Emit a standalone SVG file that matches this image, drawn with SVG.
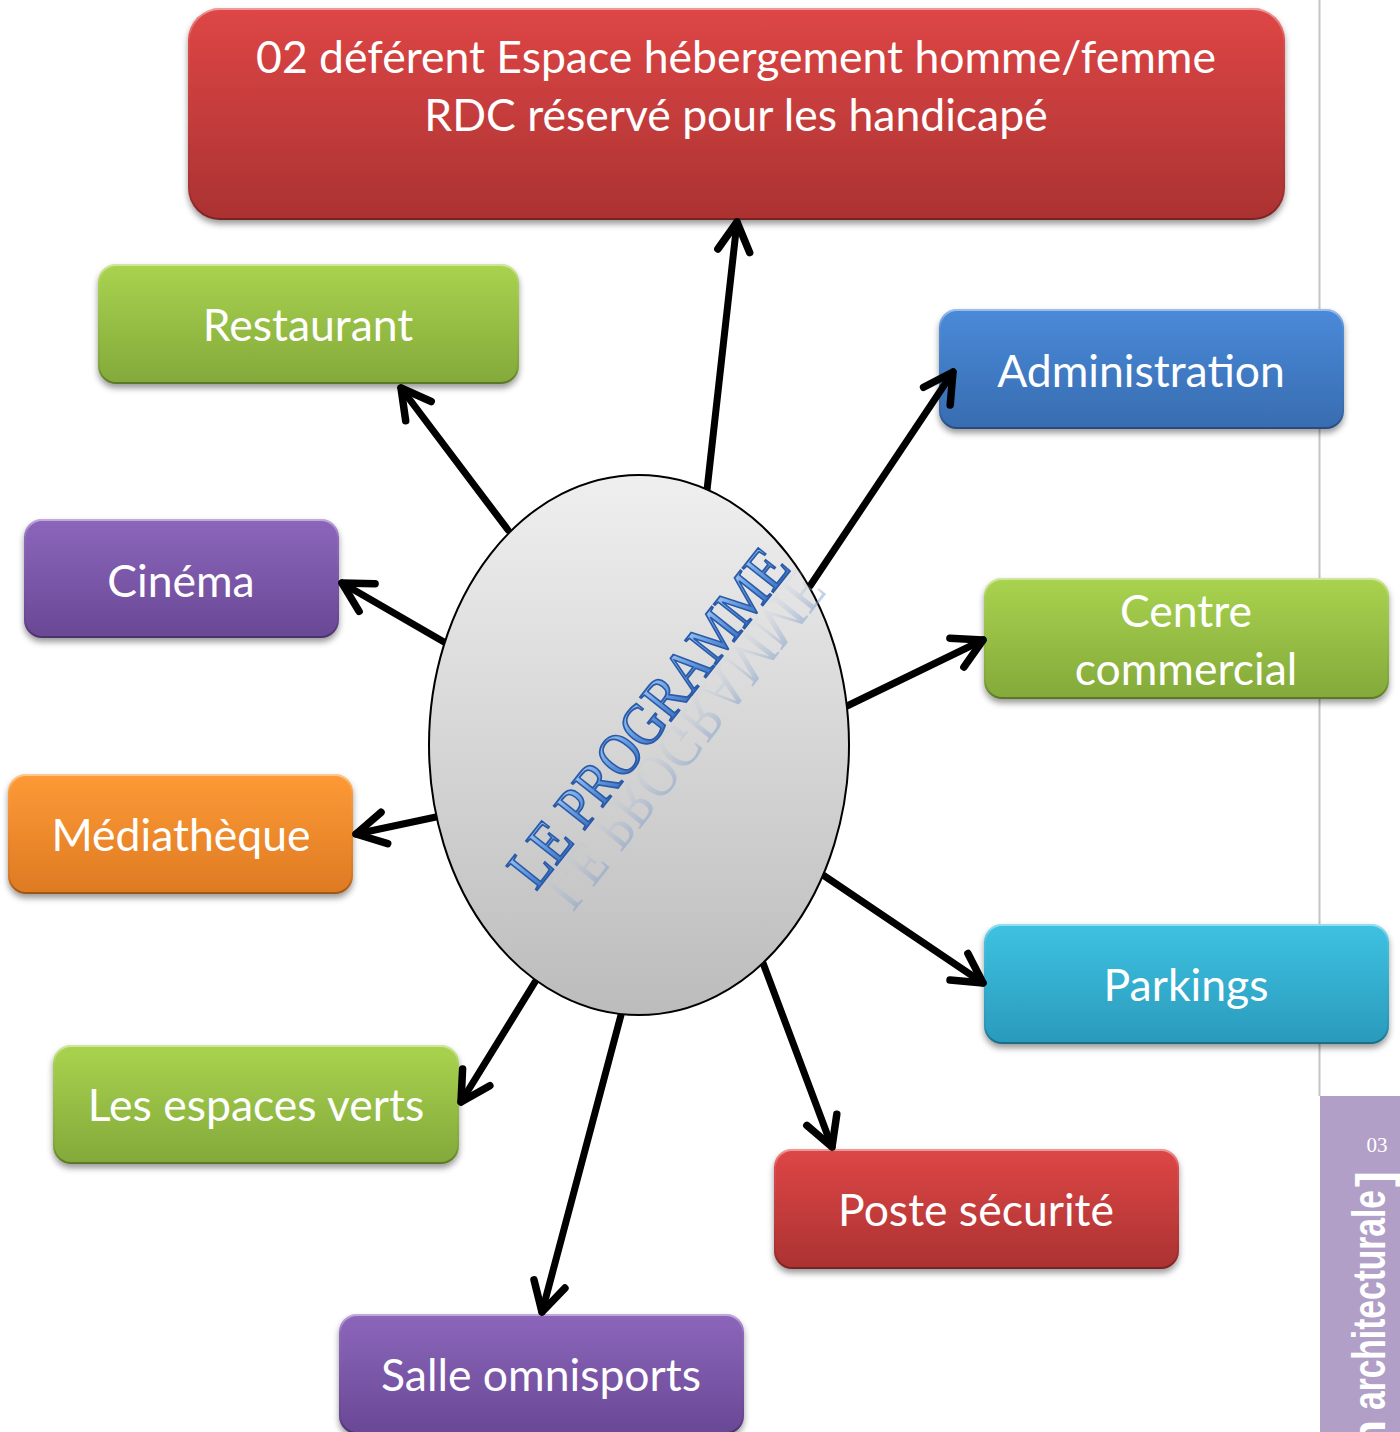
<svg xmlns="http://www.w3.org/2000/svg" width="1400" height="1432" viewBox="0 0 1400 1432">
  <defs>
    <style>
      .box { stroke: none; filter: url(#shadow); }
      .bevel { fill: none; stroke: url(#bevelStroke); stroke-width: 2; }
      .label { font-family: Lato, "Liberation Sans", sans-serif; font-size: 44.5px; fill: #ffffff; text-anchor: middle; }
      .wire { fill: none; stroke: #000000; stroke-width: 7; stroke-linecap: round; marker-end: url(#arrow); }
      .red { fill: url(#gRed); }
      .green { fill: url(#gGreen); }
      .blue { fill: url(#gBlue); }
      .purple { fill: url(#gPurple); }
      .orange { fill: url(#gOrange); }
      .cyan { fill: url(#gCyan); }
    </style>
    <filter id="shadow" x="-10%" y="-10%" width="120%" height="130%">
      <feDropShadow dx="0" dy="4" stdDeviation="3" flood-color="#000000" flood-opacity="0.4"/>
    </filter>
    <linearGradient id="bevelStroke" x1="0" y1="0" x2="0" y2="1">
      <stop offset="0" stop-color="#ffffff" stop-opacity="0.45"/>
      <stop offset="0.15" stop-color="#ffffff" stop-opacity="0.05"/>
      <stop offset="0.85" stop-color="#000000" stop-opacity="0.05"/>
      <stop offset="1" stop-color="#000000" stop-opacity="0.3"/>
    </linearGradient>
    <linearGradient id="gRed" x1="0" y1="0" x2="0" y2="1">
      <stop offset="0" stop-color="#de4645"/>
      <stop offset="1" stop-color="#ab3232"/>
    </linearGradient>
    <linearGradient id="gGreen" x1="0" y1="0" x2="0" y2="1">
      <stop offset="0" stop-color="#a9d34f"/>
      <stop offset="1" stop-color="#83a93a"/>
    </linearGradient>
    <linearGradient id="gBlue" x1="0" y1="0" x2="0" y2="1">
      <stop offset="0" stop-color="#4a8ad9"/>
      <stop offset="1" stop-color="#386cb0"/>
    </linearGradient>
    <linearGradient id="gPurple" x1="0" y1="0" x2="0" y2="1">
      <stop offset="0" stop-color="#8c66bb"/>
      <stop offset="1" stop-color="#694895"/>
    </linearGradient>
    <linearGradient id="gOrange" x1="0" y1="0" x2="0" y2="1">
      <stop offset="0" stop-color="#fd9a35"/>
      <stop offset="1" stop-color="#de7a23"/>
    </linearGradient>
    <linearGradient id="gCyan" x1="0" y1="0" x2="0" y2="1">
      <stop offset="0" stop-color="#3ec2e2"/>
      <stop offset="1" stop-color="#2a9abb"/>
    </linearGradient>
    <linearGradient id="gHub" x1="0" y1="0" x2="0" y2="1">
      <stop offset="0" stop-color="#efefef"/>
      <stop offset="1" stop-color="#bcbcbc"/>
    </linearGradient>
    <linearGradient id="gTitle" x1="0" y1="0" x2="0" y2="1">
      <stop offset="0" stop-color="#b8d6f6"/>
      <stop offset="0.45" stop-color="#6a9fe2"/>
      <stop offset="1" stop-color="#2b60b4"/>
    </linearGradient>
    <linearGradient id="gReflect" x1="0" y1="0" x2="0" y2="1">
      <stop offset="0" stop-color="#6f8fc0" stop-opacity="0.65"/>
      <stop offset="0.6" stop-color="#9fb4d6" stop-opacity="0.2"/>
      <stop offset="1" stop-color="#c0cce0" stop-opacity="0"/>
    </linearGradient>
    <marker id="arrow" markerUnits="userSpaceOnUse" viewBox="-40 -25 50 50" markerWidth="50" markerHeight="50" refX="0" refY="0" orient="auto">
      <path d="M-29,-16 L0,0 L-29,16" fill="none" stroke="#000000" stroke-width="7.5" stroke-linecap="round" stroke-linejoin="round"/>
    </marker>
  </defs>

  <rect x="0" y="0" width="1400" height="1432" fill="#ffffff"/>

  <!-- page margin rule and side tab -->
  <g id="page-tab">
    <line x1="1319.5" y1="0" x2="1319.5" y2="1096" stroke="#c4c4c4" stroke-width="2"/>
    <rect x="1320" y="1096" width="80" height="336" fill="#b19fc8"/>
    <text x="1377" y="1152" font-family="'Liberation Serif', serif" font-size="21" fill="#ffffff" text-anchor="middle">03</text>
    <text transform="translate(1385,1190) rotate(-90)" font-family="'Liberation Sans', Arial, sans-serif" font-weight="bold" font-size="46" fill="#ffffff" text-anchor="end" textLength="220" lengthAdjust="spacingAndGlyphs">architecturale</text>
    <text transform="translate(1385,1448) rotate(-90)" font-family="'Liberation Sans', Arial, sans-serif" font-weight="bold" font-size="46" fill="#ffffff">n</text>
    <text transform="translate(1390,1187) rotate(-90)" font-family="'Liberation Sans', Arial, sans-serif" font-weight="bold" font-size="48" fill="#ffffff">]</text>
  </g>

  <g id="hebergement">
    <rect class="box red" x="188" y="8" width="1097" height="212" rx="32"/>
    <rect class="bevel" x="189" y="9" width="1095" height="210" rx="31"/>
    <text class="label" x="736" y="73">02 déférent Espace hébergement homme/femme</text>
    <text class="label" x="736" y="131">RDC réservé pour les handicapé</text>
  </g>

  <g id="restaurant">
    <rect class="box green" x="98" y="264" width="421" height="120" rx="18"/>
    <rect class="bevel" x="99" y="265" width="419" height="118" rx="17"/>
    <text class="label" x="308" y="341">Restaurant</text>
  </g>

  <g id="administration">
    <rect class="box blue" x="939" y="309" width="405" height="120" rx="18"/>
    <rect class="bevel" x="940" y="310" width="403" height="118" rx="17"/>
    <text class="label" x="1141" y="387">Administration</text>
  </g>

  <g id="cinema">
    <rect class="box purple" x="24" y="519" width="315" height="119" rx="18"/>
    <rect class="bevel" x="25" y="520" width="313" height="117" rx="17"/>
    <text class="label" x="181" y="597">Cinéma</text>
  </g>

  <g id="centre-commercial">
    <rect class="box green" x="984" y="578" width="405" height="121" rx="18"/>
    <rect class="bevel" x="985" y="579" width="403" height="119" rx="17"/>
    <text class="label" x="1186" y="627">Centre</text>
    <text class="label" x="1186" y="685">commercial</text>
  </g>

  <g id="mediatheque">
    <rect class="box orange" x="8" y="774" width="345" height="120" rx="18"/>
    <rect class="bevel" x="9" y="775" width="343" height="118" rx="17"/>
    <text class="label" x="181" y="851">Médiathèque</text>
  </g>

  <g id="parkings">
    <rect class="box cyan" x="984" y="924" width="405" height="120" rx="18"/>
    <rect class="bevel" x="985" y="925" width="403" height="118" rx="17"/>
    <text class="label" x="1186" y="1001">Parkings</text>
  </g>

  <g id="espaces-verts">
    <rect class="box green" x="53" y="1045" width="406" height="119" rx="18"/>
    <rect class="bevel" x="54" y="1046" width="404" height="117" rx="17"/>
    <text class="label" x="256" y="1121">Les espaces verts</text>
  </g>

  <g id="poste-securite">
    <rect class="box red" x="774" y="1149" width="405" height="120" rx="18"/>
    <rect class="bevel" x="775" y="1150" width="403" height="118" rx="17"/>
    <text class="label" x="976" y="1226">Poste sécurité</text>
  </g>

  <g id="salle-omnisports">
    <rect class="box purple" x="339" y="1314" width="405" height="120" rx="18"/>
    <rect class="bevel" x="340" y="1315" width="403" height="118" rx="17"/>
    <text class="label" x="541" y="1391">Salle omnisports</text>
  </g>

  <!-- connectors from the hub to each space -->
  <g id="connectors">
    <line class="wire" x1="707" y1="490" x2="737" y2="222"/>
    <line class="wire" x1="508" y1="530" x2="401" y2="388"/>
    <line class="wire" x1="810" y1="586" x2="953" y2="372"/>
    <line class="wire" x1="444" y1="642" x2="342" y2="583"/>
    <line class="wire" x1="847" y1="706" x2="983" y2="640"/>
    <line class="wire" x1="436" y1="817" x2="356" y2="834"/>
    <line class="wire" x1="823" y1="875" x2="983" y2="983"/>
    <line class="wire" x1="763" y1="963" x2="832" y2="1147"/>
    <line class="wire" x1="621" y1="1015" x2="542" y2="1312"/>
    <line class="wire" x1="535" y1="982" x2="461" y2="1102"/>
  </g>

  <!-- central hub -->
  <g id="hub">
    <ellipse cx="639" cy="745" rx="210" ry="270" fill="url(#gHub)" stroke="#000000" stroke-width="2"/>
    <g transform="translate(664,730) rotate(-51.6)">
      <text x="0" y="0" transform="scale(1,-1) translate(6,-3)" font-family="'Liberation Serif', 'Times New Roman', serif" font-size="60" fill="url(#gReflect)" text-anchor="middle" textLength="412" lengthAdjust="spacingAndGlyphs">LE PROGRAMME</text>
      <text x="0" y="0" font-family="'Liberation Serif', 'Times New Roman', serif" font-size="60" fill="url(#gTitle)" stroke="#2a5aa8" stroke-width="1.8" text-anchor="middle" textLength="412" lengthAdjust="spacingAndGlyphs">LE PROGRAMME</text>
    </g>
  </g>
</svg>
